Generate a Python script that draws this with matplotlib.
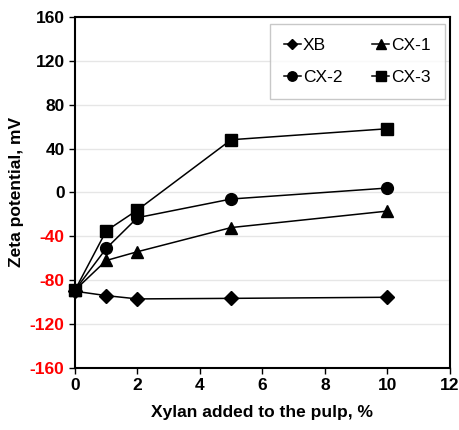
import matplotlib
matplotlib.use("Agg")
import matplotlib.pyplot as plt

plt.rcParams['font.family'] = ['Liberation Sans', 'DejaVu Sans']
plt.rcParams['axes.unicode_minus'] = False

x = [0, 1, 2, 5, 10]
xb = [-90, -94, -97, -96.5, -95.5]
cx1 = [-89, -62, -54, -32, -17]
cx2 = [-89, -51, -23, -6, 4]
cx3 = [-89, -35, -16, 48, 58]
series = [("XB", xb, "D", 7), ("CX-1", cx1, "^", 9), ("CX-2", cx2, "o", 8.5), ("CX-3", cx3, "s", 8.5)]
yticks = [-160, -120, -80, -40, 0, 40, 80, 120, 160]
xticks = [0, 2, 4, 6, 8, 10, 12]

fig = plt.figure(figsize=(4.6, 4.3), dpi=100)
ax = fig.add_axes([0.163, 0.144, 0.815, 0.817])
handles = {}
for name, vals, m, ms in series:
    h, = ax.plot(x, vals, color='black', lw=1.1, marker=m, ms=ms, mfc='black', mec='black', label=name, clip_on=False, zorder=3)
    handles[name] = h

ax.set_xlim(0, 12)
ax.set_ylim(-160, 160)
ax.set_xticks(xticks)
ax.set_yticks(yticks)
ax.yaxis.grid(True, color='#e6e6e6', lw=1)
ax.set_axisbelow(True)
for s in ax.spines.values():
    s.set_linewidth(1.5)
ax.tick_params(labelsize=12.5, width=1, length=4)
for lab in ax.get_xticklabels() + ax.get_yticklabels():
    lab.set_fontweight('bold')
for lab, v in zip(ax.get_yticklabels(), yticks):
    if v < 0:
        lab.set_color('red')
ax.set_xlabel("Xylan added to the pulp, %", fontsize=12.5, fontweight='bold', labelpad=8)
ax.set_ylabel("Zeta potential, mV", fontsize=12.5, fontweight='bold', labelpad=4)

order = ["XB", "CX-2", "CX-1", "CX-3"]
leg = ax.legend([handles[n] for n in order], order, ncol=2, loc='upper right',
                bbox_to_anchor=(0.995, 0.99), borderaxespad=0.2,
                prop={'size': 12.5}, frameon=True, fancybox=False,
                edgecolor='#bbbbbb', handlelength=1.0, handletextpad=0.1,
                columnspacing=1.7, borderpad=0.8, labelspacing=1.0, markerscale=0.8)
leg.get_frame().set_linewidth(1)

fig.savefig("out.png", dpi=100)
